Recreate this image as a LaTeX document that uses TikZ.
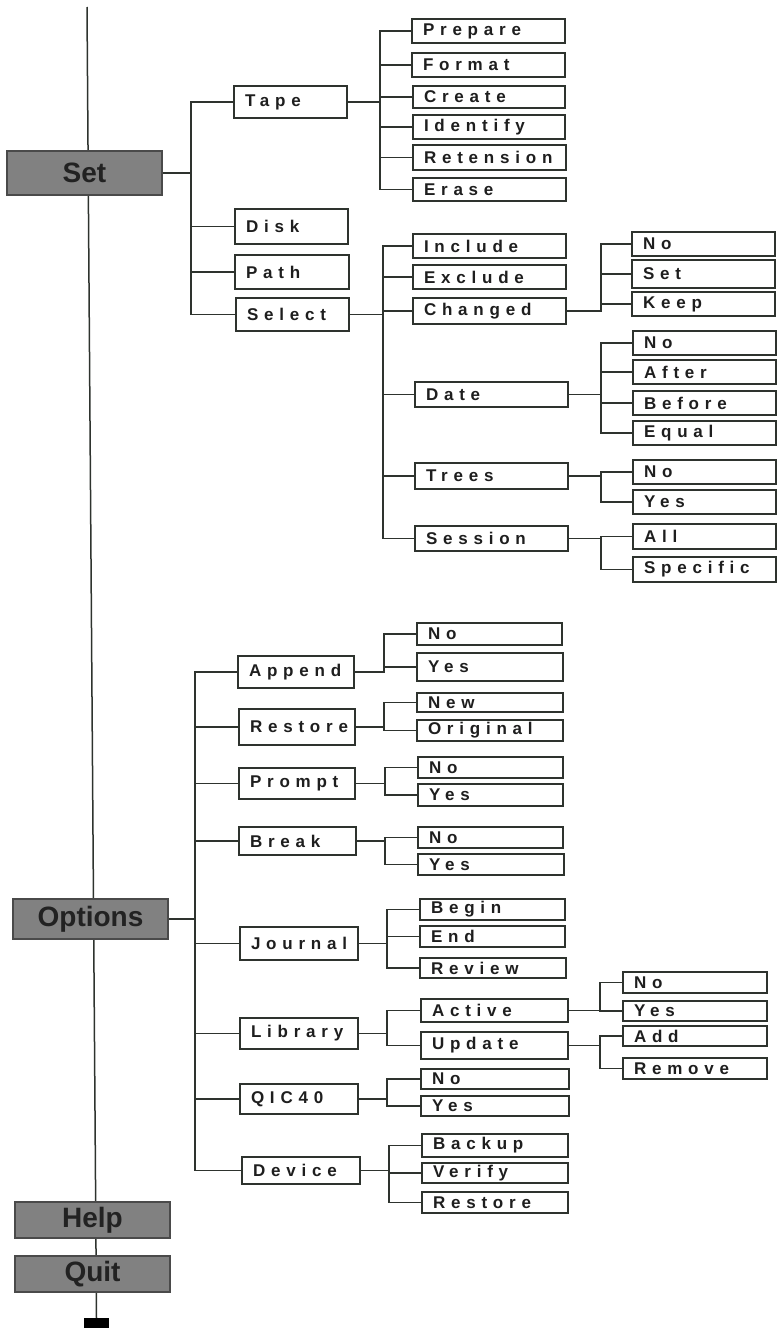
\documentclass[tikz,border=0pt]{standalone}
\usepackage{fontspec}
\setmainfont{Liberation Sans}
\newfontfamily\boxfont[LetterSpace=34]{Liberation Sans Bold}
\newfontfamily\menufont{Liberation Sans Bold}
\usetikzlibrary{backgrounds}
\definecolor{lc}{HTML}{2E332E}
\definecolor{tc}{HTML}{1E1E1E}
\definecolor{mf}{HTML}{818181}
\definecolor{mc}{HTML}{4A4A4A}
\definecolor{mt}{HTML}{222222}
\tikzset{
  ln/.style={draw=lc, line width=1.5pt},
  box/.style={draw=lc, line width=1.4pt, fill=white, inner xsep=11pt, inner ysep=0pt,
    align=left, text=tc, font=\boxfont\fontsize{17}{18}\selectfont},
  menu/.style={draw=mc, line width=1.2pt, fill=mf, inner sep=0pt, text=mt,
    font=\menufont\fontsize{28}{28}\selectfont}
}
\newcommand\bx[6]{%
  \pgfmathsetmacro\bxw{#4-#2-22}%
  \pgfmathsetmacro\bxh{#5-#3}%
  \node[box, text width=\bxw pt, minimum height=\bxh pt] (#1) at ({(#2+#4)/2},{(#3+#5)/2}) {#6};}
\newcommand\mn[6]{%
  \pgfmathsetmacro\bxw{#4-#2}%
  \pgfmathsetmacro\bxh{#5-#3}%
  \node[menu, minimum width=\bxw pt, minimum height=\bxh pt] (#1) at ({(#2+#4)/2},{(#3+#5)/2}) {#6};}
\newcommand\tree[3]{%
  \foreach \c in {#3} {\draw[ln] (#1.east) -- (#1.east -| #2) |- (\c.west);}}
\begin{document}
\begin{tikzpicture}[x=1pt,y=-1pt]
\useasboundingbox (0,0) rectangle (783,1328);
% menu boxes
\mn{Set}{7}{151}{162}{195}{Set}
\mn{Options}{13}{899}{168}{939}{Options}
\mn{Help}{15}{1202}{170}{1238}{Help}
\mn{Quit}{15}{1256}{170}{1292}{Quit}
\node[fill=black, inner sep=0pt, minimum width=25pt, minimum height=12pt] (sq) at (96.5,1324) {};
\coordinate (top) at (87,7);
% Set branch
\bx{Tape}{234}{86}{347}{118}{Tape}
\bx{Disk}{235}{209}{348}{244}{Disk}
\bx{Path}{235}{255}{349}{289}{Path}
\bx{Select}{236}{298}{349}{331}{Select}
\bx{Prepare}{412}{19}{565}{43}{Prepare}
\bx{Format}{412}{53}{565}{77}{Format}
\bx{Create}{413}{86}{565}{108}{Create}
\bx{Identify}{413}{115}{565}{139}{Identify}
\bx{Retension}{413}{145}{566}{170}{Retension}
\bx{Erase}{413}{178}{566}{201}{Erase}
\bx{Include}{413}{234}{566}{258}{Include}
\bx{Exclude}{413}{265}{566}{289}{Exclude}
\bx{Changed}{413}{298}{566}{324}{Changed}
\bx{Date}{415}{382}{568}{407}{Date}
\bx{Trees}{415}{463}{568}{489}{Trees}
\bx{Session}{415}{526}{568}{551}{Session}
\bx{chNo}{632}{232}{775}{256}{No}
\bx{chSet}{632}{260}{775}{288}{Set}
\bx{chKeep}{632}{292}{775}{316}{Keep}
\bx{dNo}{633}{331}{776}{355}{No}
\bx{dAfter}{633}{360}{776}{384}{After}
\bx{dBefore}{633}{391}{776}{415}{Before}
\bx{dEqual}{633}{421}{776}{445}{Equal}
\bx{tNo}{633}{460}{776}{484}{No}
\bx{tYes}{633}{490}{776}{514}{Yes}
\bx{sAll}{633}{524}{776}{549}{All}
\bx{sSpec}{633}{557}{776}{582}{Specific}
% Options branch
\bx{Append}{238}{656}{354}{688}{Append}
\bx{Restore}{239}{709}{355}{745}{Restore}
\bx{Prompt}{239}{768}{355}{799}{Prompt}
\bx{Break}{239}{827}{356}{855}{Break}
\bx{Journal}{240}{927}{358}{960}{Journal}
\bx{Library}{240}{1018}{358}{1049}{Library}
\bx{QIC}{240}{1084}{358}{1114}{QIC40}
\bx{Device}{242}{1157}{360}{1184}{Device}
\bx{aNo}{417}{623}{562}{645}{No}
\bx{aYes}{417}{653}{563}{681}{Yes}
\bx{rNew}{417}{693}{563}{712}{New}
\bx{rOrig}{417}{720}{563}{741}{Original}
\bx{pNo}{418}{757}{563}{778}{No}
\bx{pYes}{418}{784}{563}{806}{Yes}
\bx{kNo}{418}{827}{563}{848}{No}
\bx{kYes}{418}{854}{564}{875}{Yes}
\bx{jBegin}{420}{899}{565}{920}{Begin}
\bx{jEnd}{420}{926}{565}{947}{End}
\bx{jReview}{420}{958}{566}{978}{Review}
\bx{lActive}{421}{999}{568}{1022}{Active}
\bx{lUpdate}{421}{1032}{568}{1059}{Update}
\bx{acNo}{623}{972}{767}{993}{No}
\bx{acYes}{623}{1001}{767}{1021}{Yes}
\bx{uAdd}{623}{1026}{767}{1046}{Add}
\bx{uRemove}{623}{1058}{767}{1079}{Remove}
\bx{qNo}{421}{1069}{569}{1089}{No}
\bx{qYes}{421}{1096}{569}{1116}{Yes}
\bx{vBackup}{422}{1134}{568}{1157}{Backup}
\bx{vVerify}{422}{1163}{568}{1183}{Verify}
\bx{vRestore}{422}{1192}{568}{1213}{Restore}
% bus coordinates
\coordinate (bSet) at (191,0);
\coordinate (bTape) at (380,0);
\coordinate (bSelect) at (383,0);
\coordinate (bCh) at (601,0);
\coordinate (bOpt) at (195,0);
\coordinate (bA) at (384,0);
\coordinate (bP) at (385,0);
\coordinate (bJ) at (387,0);
\coordinate (bDev) at (389,0);
\coordinate (bL2) at (600,0);
\begin{scope}[on background layer]
\draw[ln] (top) -- (sq.north);
\tree{Set}{bSet}{Tape,Disk,Path,Select}
\tree{Tape}{bTape}{Prepare,Format,Create,Identify,Retension,Erase}
\tree{Select}{bSelect}{Include,Exclude,Changed,Date,Trees,Session}
\tree{Changed}{bCh}{chNo,chSet,chKeep}
\tree{Date}{bCh}{dNo,dAfter,dBefore,dEqual}
\tree{Trees}{bCh}{tNo,tYes}
\tree{Session}{bCh}{sAll,sSpec}
\tree{Options}{bOpt}{Append,Restore,Prompt,Break,Journal,Library,QIC,Device}
\tree{Append}{bA}{aNo,aYes}
\tree{Restore}{bA}{rNew,rOrig}
\tree{Prompt}{bP}{pNo,pYes}
\tree{Break}{bP}{kNo,kYes}
\tree{Journal}{bJ}{jBegin,jEnd,jReview}
\tree{Library}{bJ}{lActive,lUpdate}
\tree{lActive}{bL2}{acNo,acYes}
\tree{lUpdate}{bL2}{uAdd,uRemove}
\tree{QIC}{bJ}{qNo,qYes}
\tree{Device}{bDev}{vBackup,vVerify,vRestore}
\end{scope}
\end{tikzpicture}
\end{document}
